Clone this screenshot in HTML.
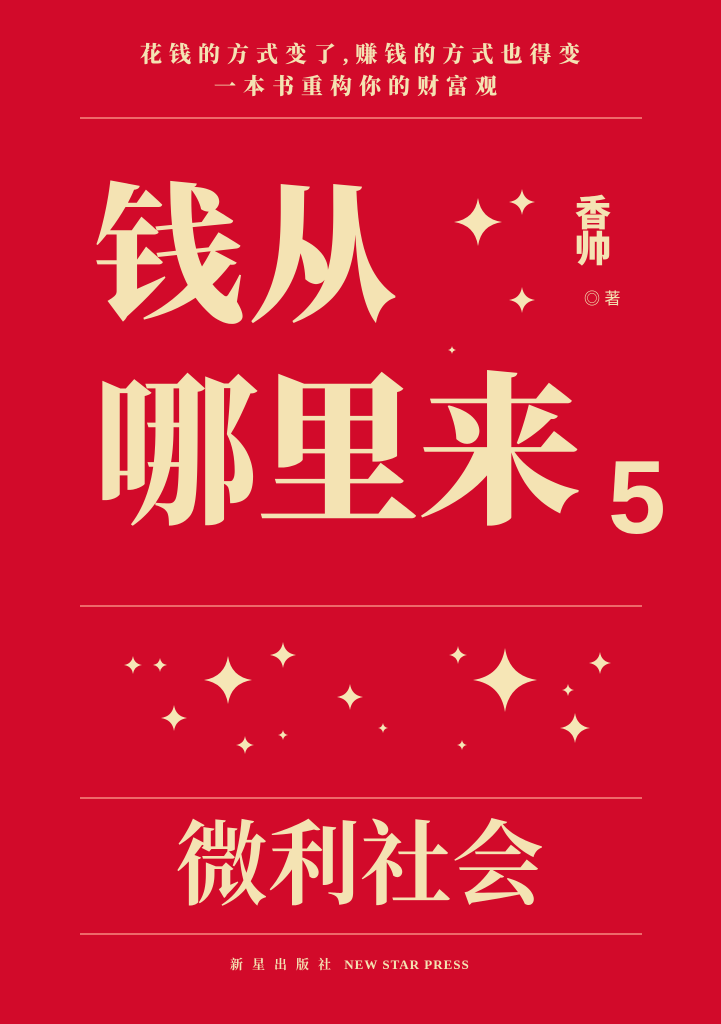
<!DOCTYPE html>
<html><head><meta charset="utf-8"><style>
html,body{margin:0;padding:0}
body{width:721px;height:1024px;background:#d20a2a;position:relative;overflow:hidden;font-family:"Liberation Serif","Noto Serif CJK SC",serif;color:#f4e3b3}
.t{position:absolute;white-space:nowrap;line-height:1}
.ln{position:absolute;left:80px;width:562px;height:2px;background:#ee6a6a}
</style></head><body>
<div class="t" style="left:140px;top:44px;font-size:22px;font-weight:900;letter-spacing:7px">花钱的方式变了,赚钱的方式也得变</div>
<div class="t" style="left:214px;top:76px;font-size:22px;font-weight:900;letter-spacing:7px">一本书重构你的财富观</div>
<div class="ln" style="top:117px"></div>
<div class="t" style="left:94px;top:184px;font-size:150px;font-weight:900;letter-spacing:4px">钱从</div>
<div class="t" style="left:94px;top:374px;font-size:164px;font-weight:900;letter-spacing:-2px">哪里来</div>
<div class="t" style="left:608px;top:446px;font-size:104px;font-weight:700;font-family:'Liberation Sans',sans-serif">5</div>
<div class="t" style="left:572px;top:194px;font-size:36px;font-weight:900;writing-mode:vertical-rl;font-family:'Liberation Sans','Noto Sans CJK SC',sans-serif">香帅</div>
<div class="t" style="left:584px;top:292px;font-size:16px;font-family:'Liberation Sans','Noto Sans CJK SC',sans-serif">◎ 著</div>
<div class="ln" style="top:605px"></div>
<svg width="721" height="1024" style="position:absolute;left:0;top:0" id="sp"></svg>
<div class="ln" style="top:797px"></div>
<div class="t" style="left:176px;top:820px;font-size:92px;font-weight:700;letter-spacing:0px">微利社会</div>
<div class="ln" style="top:933px"></div>
<div class="t" style="left:230px;top:958px;font-size:13px;font-weight:700;letter-spacing:1px"><span style="letter-spacing:9px">新星出版社</span> NEW STAR PRESS</div>
<script>
var starX=[478,522,522,452,133,160,228,283,174,245,350,383,458,505,568,600,575,462,283];
var starY=[222,202,300,350,665,665,680,655,718,745,697,728,655,680,690,663,728,745,735];
var starR=[24,13,13,4,9,7,24,13,13,9,13,5,9,32,6,11,15,5,5];
var sp=document.getElementById('sp');
for(var i=0;i<starX.length;i++){
  var x=starX[i],y=starY[i],r=starR[i],w=r*0.13;
  var d='M'+x+' '+(y-r)+' Q'+(x+w)+' '+(y-w)+' '+(x+r)+' '+y+' Q'+(x+w)+' '+(y+w)+' '+x+' '+(y+r)+' Q'+(x-w)+' '+(y+w)+' '+(x-r)+' '+y+' Q'+(x-w)+' '+(y-w)+' '+x+' '+(y-r)+'Z';
  var p=document.createElementNS('http://www.w3.org/2000/svg','path');
  p.setAttribute('d',d);p.setAttribute('fill','#f6e6b6');
  
  
  sp.appendChild(p);
}
</script>
</body></html>
